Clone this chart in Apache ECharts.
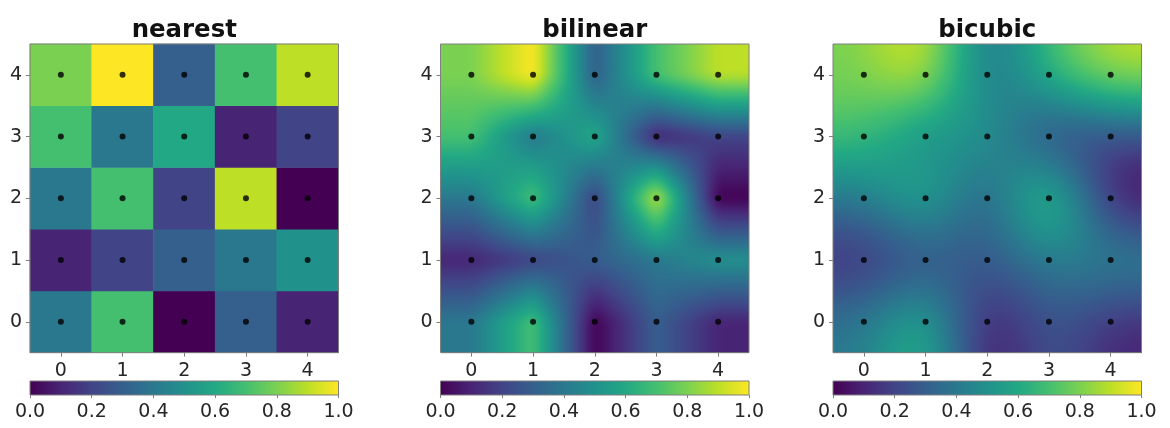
<!DOCTYPE html>
<html><head><meta charset="utf-8">
<style>html,body{margin:0;padding:0;background:#fff}#c{width:1170px;height:428px;filter:blur(0.55px)}</style>
<script src="https://cdn.jsdelivr.net/npm/echarts@6/dist/echarts.min.js"></script>
</head><body><div id="c"></div>
<script>
// Image values, row 0 is the bottom row (y = 0)
const row0 = [0.4, 0.7, 0.0, 0.3, 0.1];
const row1 = [0.1, 0.2, 0.3, 0.4, 0.5];
const row2 = [0.4, 0.7, 0.2, 0.9, 0.0];
const row3 = [0.7, 0.4, 0.6, 0.1, 0.2];
const row4 = [0.8, 1.0, 0.3, 0.7, 0.9];
const rows = [row0, row1, row2, row3, row4];
const categories = ['0', '1', '2', '3', '4'];
const titles = ['nearest', 'bilinear', 'bicubic'];
const colorbarTicks = [0, 1];
const viridis = ['#440154','#482475','#414487','#355f8d','#2a788e','#21918c','#22a884','#44bf70','#7ad151','#bddf26','#fde725'];

const FONT = 'DejaVu Sans';
const TEXT = '#262626';
const FRAME = '#7f7f7f';
const panelLeft = [30, 440.5, 833];
const panelW = 308.5, panelTop = 44, panelH = 308.7, barTop = 381, barH = 14;

const rgb = viridis.map(h => [1,3,5].map(i => parseInt(h.substr(i,2),16)));
function cmap(t){
  t = Math.max(0, Math.min(1, t)) * 10;
  const i = Math.min(9, Math.floor(t)), f = t - i;
  return rgb[i].map((c,k) => c + (rgb[i+1][k]-c)*f);
}
const at = (x,y) => rows[Math.max(0,Math.min(4,y))][Math.max(0,Math.min(4,x))];
function linear(u,v){
  const x=Math.floor(u), y=Math.floor(v), a=u-x, b=v-y;
  return (at(x,y)*(1-a)+at(x+1,y)*a)*(1-b)+(at(x,y+1)*(1-a)+at(x+1,y+1)*a)*b;
}
// bilinear resampling with a small softening of the creases between cells
function bilinear(u,v){
  let s=0; const d=[-0.1,-0.05,0,0.05,0.1];
  d.forEach(a=>d.forEach(b=>{ s+=linear(u+a,v+b); }));
  return s/25;
}
function spline(t){ return [(1-t)*(1-t)*(1-t)/6,(3*t*t*t-6*t*t+4)/6,(-3*t*t*t+3*t*t+3*t+1)/6,t*t*t/6]; }
function bicubic(u,v){
  const x=Math.floor(u), y=Math.floor(v), wx=spline(u-x), wy=spline(v-y);
  let s=0;
  for(let m=0;m<4;m++) for(let n=0;n<4;n++) s+=wx[m]*wy[n]*at(x+m-1,y+n-1);
  return s;
}
const cache = {};
function patch(field,name,i,j,W,H){
  const key=[name,i,j,W,H].join('_');
  if(cache[key]) return cache[key];
  const cv=document.createElement('canvas'); cv.width=W; cv.height=H;
  const ctx=cv.getContext('2d'), img=ctx.createImageData(W,H);
  for(let py=0;py<H;py++) for(let px=0;px<W;px++){
    const u=i-0.5+(px+0.5)/W, v=j+0.5-(py+0.5)/H;
    const c=cmap(field(u,v)), o=(py*W+px)*4;
    img.data[o]=c[0]; img.data[o+1]=c[1]; img.data[o+2]=c[2]; img.data[o+3]=255;
  }
  ctx.putImageData(img,0,0);
  return cache[key]=cv;
}
const cells=[]; rows.forEach((r,j)=>r.forEach((val,i)=>cells.push([i,j,val])));
const frameSeries = (g) => ({
  type:'custom', xAxisIndex:g, yAxisIndex:g, silent:true, z:20, data:[[0,0]], clip:false,
  encode:{x:0,y:1},
  renderItem:(p,api)=>({type:'rect',shape:{x:p.coordSys.x,y:p.coordSys.y,width:p.coordSys.width,height:p.coordSys.height},
    style:{fill:'none',stroke:FRAME,lineWidth:1}})
});
const grid=[],xAxis=[],yAxis=[],series=[],title=[];
titles.forEach((t,k)=>{
  title.push({text:t,left:panelLeft[k]+panelW/2-5,top:14,textAlign:'center',
    textStyle:{fontFamily:FONT,fontWeight:'bold',fontSize:24.4,color:'#111'}});
  grid.push({left:panelLeft[k],top:panelTop,width:panelW,height:panelH});
  const cat={type:'category',data:categories,gridIndex:k,
    axisLine:{show:false},axisTick:{show:true,alignWithLabel:true,length:4,lineStyle:{color:FRAME}},
    splitLine:{show:false},splitArea:{show:false}};
  xAxis.push({...cat,axisLabel:{fontFamily:FONT,fontSize:19,color:TEXT,margin:9,interval:0}});
  yAxis.push({...cat,axisLabel:{fontFamily:FONT,fontSize:19,color:TEXT,margin:8,interval:0}});
  if(k===0){
    series.push({type:'heatmap',xAxisIndex:k,yAxisIndex:k,data:cells,silent:true,z:2,itemStyle:{borderWidth:0}});
  } else {
    const field=k===1?bilinear:bicubic;
    series.push({type:'custom',xAxisIndex:k,yAxisIndex:k,silent:true,z:2,data:cells,encode:{x:0,y:1},
      renderItem:(p,api)=>{
        const i=api.value(0), j=api.value(1), c=api.coord([i,j]), s=api.size([1,1]);
        const x0=Math.round(c[0]-s[0]/2), x1=Math.round(c[0]+s[0]/2);
        const y0=Math.round(c[1]-s[1]/2), y1=Math.round(c[1]+s[1]/2);
        return {type:'image',style:{image:patch(field,t,i,j,x1-x0,y1-y0),x:x0,y:y0,width:x1-x0,height:y1-y0}};
      }});
  }
  series.push({type:'scatter',xAxisIndex:k,yAxisIndex:k,silent:true,z:10,symbolSize:6,
    itemStyle:{color:'#000'},data:cells.map(d=>[d[0],d[1]])});
  series.push(frameSeries(k));
});
titles.forEach((t,k)=>{
  const g=k+3;
  grid.push({left:panelLeft[k],top:barTop,width:panelW,height:barH});
  xAxis.push({type:'value',gridIndex:g,min:colorbarTicks[0],max:colorbarTicks[1],interval:0.2,
    axisLine:{show:false},splitLine:{show:false},
    axisTick:{show:true,length:3,lineStyle:{color:FRAME}},
    axisLabel:{fontFamily:FONT,fontSize:19,color:TEXT,margin:8,showMinLabel:true,showMaxLabel:true,hideOverlap:false,
      formatter:v=>v.toFixed(1)}});
  yAxis.push({type:'value',gridIndex:g,min:0,max:1,show:false});
  series.push({type:'custom',xAxisIndex:g,yAxisIndex:g,silent:true,z:2,data:[[0,0,1,1]],encode:{x:[0,2],y:[1,3]},
    renderItem:(p,api)=>{
      const a=api.coord([api.value(0),api.value(3)]), b=api.coord([api.value(2),api.value(1)]);
      return {type:'rect',shape:{x:a[0],y:a[1],width:b[0]-a[0],height:b[1]-a[1]},
        style:{fill:new echarts.graphic.LinearGradient(0,0,1,0,viridis.map((c,i)=>({offset:i/10,color:c})))}};
    }});
  series.push(frameSeries(g));
});
const chart=echarts.init(document.getElementById('c'),null,{renderer:'canvas'});
chart.setOption({animation:false,backgroundColor:'#fff',tooltip:{show:false},title,grid,xAxis,yAxis,series,
  visualMap:{show:false,type:'continuous',min:0,max:1,seriesIndex:0,dimension:2,inRange:{color:viridis}}});
</script></body></html>
